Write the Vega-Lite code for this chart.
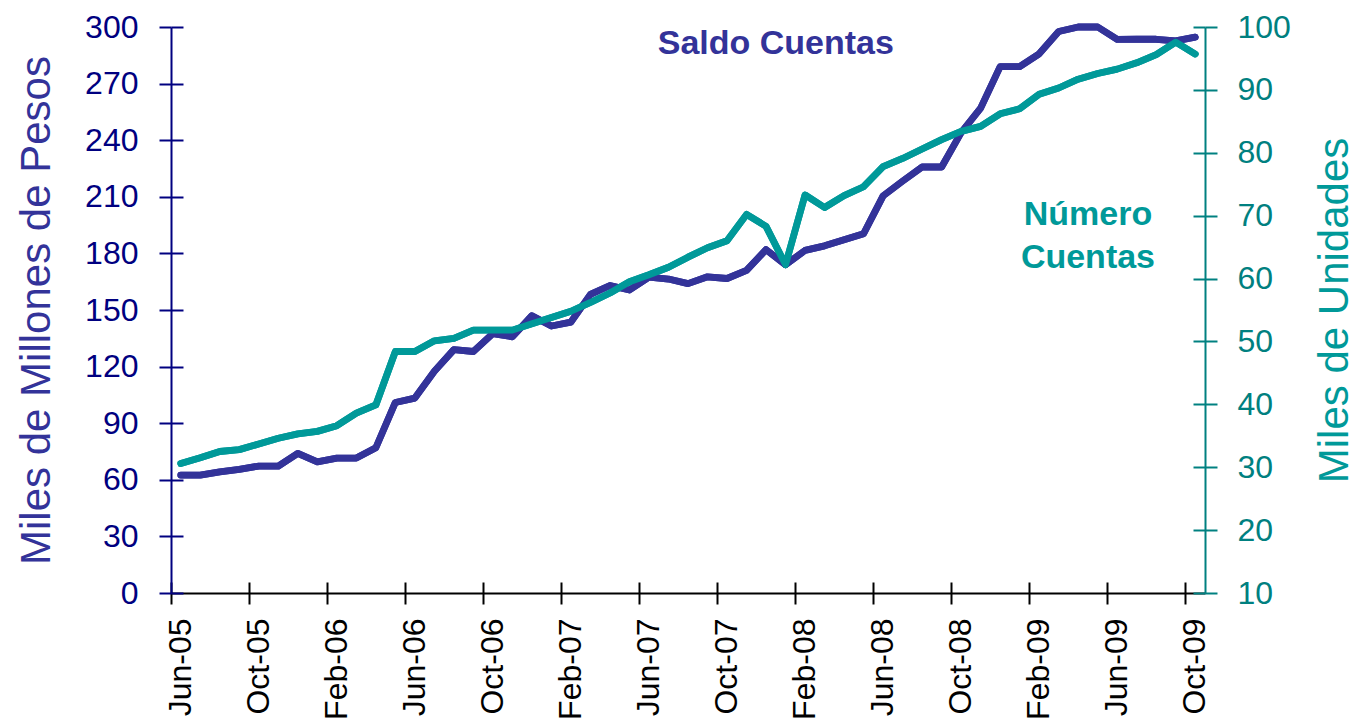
{
  "$schema": "https://vega.github.io/schema/vega-lite/v6.json",
  "width": 1034,
  "height": 566,
  "autosize": {"type": "none"},
  "padding": {"left": 171, "top": 27, "right": 152, "bottom": 134},
  "background": "white",
  "config": {"view": {"stroke": null}, "font": "Liberation Sans", "axis": {"grid": false, "labelFont": "Liberation Sans", "titleFont": "Liberation Sans"}},
  "data": {"values": [
    {"mes": "Jun-05", "saldo": 62.5, "numero": 30.6},
    {"mes": "Jul-05", "saldo": 62.5, "numero": 31.5},
    {"mes": "Aug-05", "saldo": 64.2, "numero": 32.5},
    {"mes": "Sep-05", "saldo": 65.5, "numero": 32.8},
    {"mes": "Oct-05", "saldo": 67.3, "numero": 33.7},
    {"mes": "Nov-05", "saldo": 67.3, "numero": 34.6},
    {"mes": "Dec-05", "saldo": 74.0, "numero": 35.3},
    {"mes": "Jan-06", "saldo": 69.5, "numero": 35.7},
    {"mes": "Feb-06", "saldo": 71.5, "numero": 36.6},
    {"mes": "Mar-06", "saldo": 71.5, "numero": 38.6},
    {"mes": "Apr-06", "saldo": 77.0, "numero": 39.9},
    {"mes": "May-06", "saldo": 101.0, "numero": 48.4},
    {"mes": "Jun-06", "saldo": 103.3, "numero": 48.4},
    {"mes": "Jul-06", "saldo": 117.5, "numero": 50.1},
    {"mes": "Aug-06", "saldo": 129.0, "numero": 50.5},
    {"mes": "Sep-06", "saldo": 128.0, "numero": 51.8},
    {"mes": "Oct-06", "saldo": 137.5, "numero": 51.8},
    {"mes": "Nov-06", "saldo": 135.8, "numero": 51.8},
    {"mes": "Dec-06", "saldo": 147.0, "numero": 52.8},
    {"mes": "Jan-07", "saldo": 141.5, "numero": 53.8},
    {"mes": "Feb-07", "saldo": 143.6, "numero": 54.8},
    {"mes": "Mar-07", "saldo": 158.3, "numero": 56.2},
    {"mes": "Apr-07", "saldo": 163.0, "numero": 57.7},
    {"mes": "May-07", "saldo": 160.6, "numero": 59.5},
    {"mes": "Jun-07", "saldo": 167.4, "numero": 60.6},
    {"mes": "Jul-07", "saldo": 166.4, "numero": 61.8},
    {"mes": "Aug-07", "saldo": 164.0, "numero": 63.4},
    {"mes": "Sep-07", "saldo": 167.6, "numero": 64.9},
    {"mes": "Oct-07", "saldo": 166.7, "numero": 66.0},
    {"mes": "Nov-07", "saldo": 171.0, "numero": 70.2},
    {"mes": "Dec-07", "saldo": 182.0, "numero": 68.3},
    {"mes": "Jan-08", "saldo": 174.0, "numero": 62.2},
    {"mes": "Feb-08", "saldo": 181.6, "numero": 73.3},
    {"mes": "Mar-08", "saldo": 184.0, "numero": 71.3},
    {"mes": "Apr-08", "saldo": 187.2, "numero": 73.2},
    {"mes": "May-08", "saldo": 190.4, "numero": 74.6},
    {"mes": "Jun-08", "saldo": 210.5, "numero": 77.8},
    {"mes": "Jul-08", "saldo": 218.3, "numero": 79.1},
    {"mes": "Aug-08", "saldo": 225.8, "numero": 80.6},
    {"mes": "Sep-08", "saldo": 225.8, "numero": 82.1},
    {"mes": "Oct-08", "saldo": 244.0, "numero": 83.4},
    {"mes": "Nov-08", "saldo": 257.0, "numero": 84.2},
    {"mes": "Dec-08", "saldo": 279.0, "numero": 86.2},
    {"mes": "Jan-09", "saldo": 279.0, "numero": 87.0},
    {"mes": "Feb-09", "saldo": 285.8, "numero": 89.3},
    {"mes": "Mar-09", "saldo": 297.6, "numero": 90.3},
    {"mes": "Apr-09", "saldo": 300.0, "numero": 91.7},
    {"mes": "May-09", "saldo": 300.0, "numero": 92.6},
    {"mes": "Jun-09", "saldo": 293.4, "numero": 93.3},
    {"mes": "Jul-09", "saldo": 293.5, "numero": 94.3},
    {"mes": "Aug-09", "saldo": 293.5, "numero": 95.6},
    {"mes": "Sep-09", "saldo": 292.6, "numero": 97.6},
    {"mes": "Oct-09", "saldo": 294.6, "numero": 95.7}
  ]},
  "layer": [
    {
      "mark": {"type": "line", "color": "#333399", "strokeWidth": 6.8, "strokeJoin": "round", "strokeCap": "round"},
      "encoding": {
        "x": {"field": "mes", "type": "ordinal", "bandPosition": 0.5,
          "scale": {"type": "band", "paddingInner": 0, "paddingOuter": 0, "domain": ["Jun-05","Jul-05","Aug-05","Sep-05","Oct-05","Nov-05","Dec-05","Jan-06","Feb-06","Mar-06","Apr-06","May-06","Jun-06","Jul-06","Aug-06","Sep-06","Oct-06","Nov-06","Dec-06","Jan-07","Feb-07","Mar-07","Apr-07","May-07","Jun-07","Jul-07","Aug-07","Sep-07","Oct-07","Nov-07","Dec-07","Jan-08","Feb-08","Mar-08","Apr-08","May-08","Jun-08","Jul-08","Aug-08","Sep-08","Oct-08","Nov-08","Dec-08","Jan-09","Feb-09","Mar-09","Apr-09","May-09","Jun-09","Jul-09","Aug-09","Sep-09","Oct-09"]},
          "axis": {"orient": "bottom", "values": ["Jun-05","Oct-05","Feb-06","Jun-06","Oct-06","Feb-07","Jun-07","Oct-07","Feb-08","Jun-08","Oct-08","Feb-09","Jun-09","Oct-09"],
            "bandPosition": 0, "title": null, "domainColor": "#000000", "domainWidth": 2, "tickColor": "#000000", "tickWidth": 2, "tickSize": 11,
            "labelAngle": 270, "labelFontSize": 32, "labelColor": "#000000", "labelPadding": 14, "labelOverlap": false, "labelBound": false}},
        "y": {"field": "saldo", "type": "quantitative", "scale": {"domain": [0, 300], "nice": false},
          "axis": {"orient": "left", "values": [0, 30, 60, 90, 120, 150, 180, 210, 240, 270, 300], "title": "Miles de Millones de Pesos",
            "titleFontSize": 42, "titleFontWeight": "normal", "titleColor": "#333399", "titlePadding": 26,
            "domainColor": "#000080", "domainWidth": 2, "tickColor": "#000080", "tickWidth": 2, "tickSize": 12,
            "labelFontSize": 32, "labelColor": "#000080", "labelPadding": 21, "labelOverlap": false, "labelBound": false, "labelFlush": false}}
      }
    },
    {
      "mark": {"type": "line", "color": "#009999", "strokeWidth": 6.8, "strokeJoin": "round", "strokeCap": "round"},
      "encoding": {
        "x": {"field": "mes", "type": "ordinal", "bandPosition": 0.5, "axis": null},
        "y": {"field": "numero", "type": "quantitative", "scale": {"domain": [10, 100], "nice": false, "zero": false},
          "axis": {"orient": "right", "values": [10, 20, 30, 40, 50, 60, 70, 80, 90, 100], "title": "Miles de Unidades",
            "titleFontSize": 42, "titleFontWeight": "normal", "titleColor": "#009999", "titlePadding": 24, "titleAngle": 270, "titleBaseline": "top",
            "domainColor": "#008080", "domainWidth": 2, "tickColor": "#008080", "tickWidth": 2, "tickSize": 12,
            "labelFontSize": 32, "labelColor": "#008080", "labelPadding": 20, "labelOverlap": false, "labelBound": false, "labelFlush": false}}
      }
    },
    {
      "mark": {"type": "line", "color": "#333399", "strokeWidth": 6.8, "strokeJoin": "round", "strokeCap": "round"},
      "encoding": {
        "x": {"field": "mes", "type": "ordinal", "bandPosition": 0.5,
          "axis": {"orient": "bottom", "values": ["Jun-05","Oct-05","Feb-06","Jun-06","Oct-06","Feb-07","Jun-07","Oct-07","Feb-08","Jun-08","Oct-08","Feb-09","Jun-09","Oct-09"],
            "bandPosition": 0, "title": null, "domain": false, "labels": false, "tickColor": "#000000", "tickWidth": 2, "tickSize": 11, "offset": -11}},
        "y": {"field": "saldo", "type": "quantitative", "scale": {"domain": [0, 300], "nice": false},
          "axis": {"orient": "left", "values": [0, 30, 60, 90, 120, 150, 180, 210, 240, 270, 300], "title": null, "domain": false, "labels": false,
            "tickColor": "#000080", "tickWidth": 2, "tickSize": 12, "offset": -12}}
      }
    },
    {
      "mark": {"type": "line", "color": "#009999", "strokeWidth": 6.8, "strokeJoin": "round", "strokeCap": "round"},
      "encoding": {
        "x": {"field": "mes", "type": "ordinal", "bandPosition": 0.5, "axis": null},
        "y": {"field": "numero", "type": "quantitative", "scale": {"domain": [10, 100], "nice": false, "zero": false},
          "axis": {"orient": "right", "values": [10, 20, 30, 40, 50, 60, 70, 80, 90, 100], "title": null, "domain": false, "labels": false,
            "tickColor": "#008080", "tickWidth": 2, "tickSize": 12, "offset": -12}}
      }
    },
    {
      "data": {"values": [{"mes": "Jan-08", "v": 291, "nota": "Saldo Cuentas"}]},
      "mark": {"type": "text", "font": "Liberation Sans", "fontWeight": "bold", "fontSize": 34, "color": "#333399", "align": "center", "baseline": "middle"},
      "encoding": {
        "x": {"field": "mes", "type": "ordinal", "bandPosition": 0, "axis": null},
        "y": {"field": "v", "type": "quantitative", "scale": {"domain": [0, 300], "nice": false}, "axis": null},
        "text": {"field": "nota"}
      }
    },
    {
      "data": {"values": [{"mes": "May-09", "v": 200.5, "nota": "Número\nCuentas"}]},
      "mark": {"type": "text", "font": "Liberation Sans", "fontWeight": "bold", "fontSize": 34, "color": "#009999", "align": "center", "baseline": "middle", "lineBreak": "\n", "lineHeight": 43},
      "encoding": {
        "x": {"field": "mes", "type": "ordinal", "bandPosition": 0, "axis": null},
        "y": {"field": "v", "type": "quantitative", "scale": {"domain": [0, 300], "nice": false}, "axis": null},
        "text": {"field": "nota"}
      }
    }
  ],
  "resolve": {"scale": {"y": "independent"}, "axis": {"x": "independent", "y": "independent"}}
}
